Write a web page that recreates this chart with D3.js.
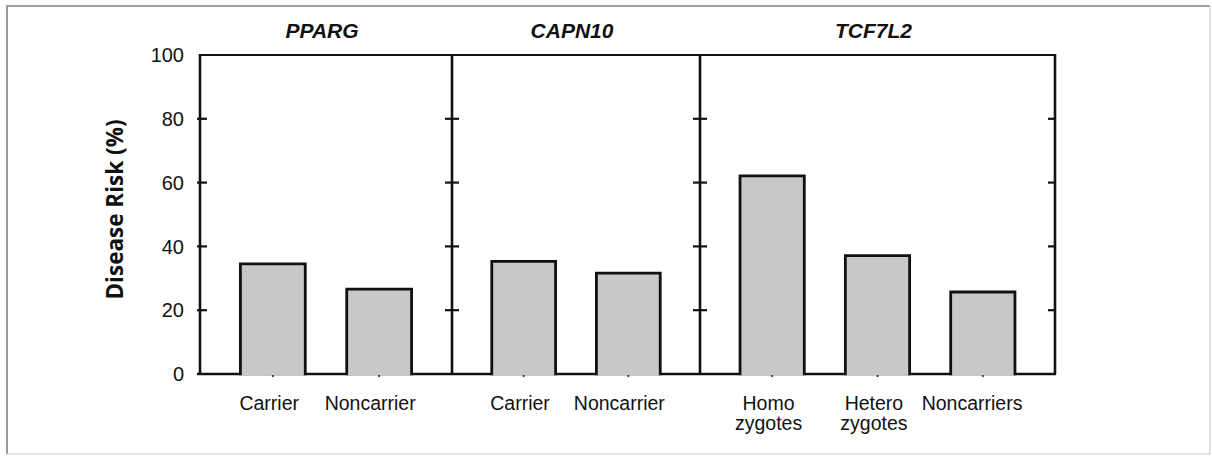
<!DOCTYPE HTML>
<html lang="en">
<head>
<meta charset="utf-8" />
<title>Disease Risk by Genotype</title>
<style>
  body { margin: 0; background: #fff; }
  text { font-family: "Liberation Sans", Arial, sans-serif; fill: #111; }
</style>
</head>
<body>
<div id="chart"></div>
<script src="https://d3js.org/d3.v7.min.js"></script>
<script>
  // data
  const genes = ['PPARG', 'CAPN10', 'TCF7L2'];
  const categories = [
    ['Carrier', 'Noncarrier'],
    ['Carrier', 'Noncarrier'],
    ['Homo zygotes', 'Hetero zygotes', 'Noncarriers']
  ];
  const risk = [
    [34.5, 26.6],
    [35.3, 31.6],
    [62.1, 37.1, 25.7]
  ];
  const yTicks = [0, 20, 40, 60, 80, 100];

  // layout
  const width = 1212;
  const height = 456;
  const plotTop = 55, plotBottom = 374;
  const panelEdges = [200, 452, 700, 1055];

  const svg = d3.select('#chart')
    .append('svg')
    .attr('width', width)
    .attr('height', height);

  // outer frame: top/left darker than right/bottom, like the scan
  svg.append('path')
    .attr('d', 'M7,454V6H1210')
    .attr('fill', 'none').attr('stroke', '#808080').attr('stroke-width', 1.6);
  svg.append('path')
    .attr('d', 'M1210,6V454H7')
    .attr('fill', 'none').attr('stroke', '#d0d0d0').attr('stroke-width', 1.2);

  const y = d3.scaleLinear().domain([0, 100]).range([plotBottom, plotTop]);

  // y tick labels
  svg.selectAll('.ylab')
    .data(yTicks)
    .enter()
    .append('text')
    .attr('class', 'ylab')
    .attr('x', 184)
    .attr('y', d => y(d))
    .attr('dy', '0.36em')
    .attr('text-anchor', 'end')
    .style('font-size', '20px')
    .text(d => d);

  // y title
  svg.append('text')
    .attr('transform', `translate(123, ${(plotTop + plotBottom) / 2 - 5}) rotate(-90)`)
    .attr('text-anchor', 'middle')
    .style('font-family', '"Open Sans", sans-serif')
    .style('font-weight', 'bold')
    .style('font-size', '22.5px')
    .text('Disease Risk (%)');

  // top line and baseline
  svg.append('line')
    .attr('x1', panelEdges[0]).attr('x2', panelEdges[3])
    .attr('y1', y(100)).attr('y2', y(100))
    .attr('stroke', '#111').attr('stroke-width', 2);
  svg.append('line')
    .attr('x1', panelEdges[0] - 3).attr('x2', panelEdges[3] + 1)
    .attr('y1', y(0)).attr('y2', y(0))
    .attr('stroke', '#111').attr('stroke-width', 2.5);

  genes.forEach((gene, p) => {
    const x0 = panelEdges[p], x1 = panelEdges[p + 1];
    const x = d3.scaleBand()
      .domain(categories[p])
      .range([x0, x1])
      .paddingInner(0.39)
      .paddingOuter(0.38);

    const rows = categories[p].map((c, i) => ({ cat: c, value: risk[p][i] }));

    // bars: filled, outlined on sides and top only
    svg.selectAll(`.bar${p}`)
      .data(rows)
      .enter()
      .append('path')
      .attr('class', `bar${p}`)
      .attr('d', d => {
        const bx = x(d.cat), bw = x.bandwidth();
        return `M${bx},${y(0) + 1.2}V${y(d.value)}H${bx + bw}V${y(0) + 1.2}`;
      })
      .attr('fill', '#c8c8c8')
      .attr('stroke', '#111')
      .attr('stroke-width', 2.8);

    // small tick dots under bars
    svg.selectAll(`.dot${p}`)
      .data(rows)
      .enter()
      .append('circle')
      .attr('class', `dot${p}`)
      .attr('cx', d => x(d.cat) + x.bandwidth() / 2)
      .attr('cy', y(0) + 2)
      .attr('r', 1.1)
      .attr('fill', '#222');

    // category labels (may wrap onto two lines); longer labels sit a bit left
    const labels = svg.selectAll(`.cat${p}`)
      .data(rows)
      .enter()
      .append('text')
      .attr('class', `cat${p}`)
      .attr('text-anchor', 'middle')
      .style('font-size', '19.5px');
    labels.each(function (d) {
      const words = d.cat.split(' ');
      const longest = d3.max(words, w => w.length);
      const cx = x(d.cat) + x.bandwidth() / 2 - Math.max(2, (longest - 5) * 1.8);
      words.forEach((w, k) => {
        d3.select(this).append('tspan')
          .attr('x', cx)
          .attr('y', 410 + k * 20)
          .text(w);
      });
    });

    // panel title
    svg.append('text')
      .attr('x', (x0 + x1) / 2 - 4)
      .attr('y', 38)
      .attr('text-anchor', 'middle')
      .style('font-weight', 'bold')
      .style('font-style', 'italic')
      .style('font-size', '21px')
      .text(gene);
  });

  // vertical axes at each panel edge, with ticks
  panelEdges.forEach((ex, i) => {
    svg.append('line')
      .attr('x1', ex).attr('x2', ex)
      .attr('y1', y(100) - 1).attr('y2', y(0))
      .attr('stroke', '#111').attr('stroke-width', 2.6);
    const left = i === 0 ? -3 : -7;
    const right = i === panelEdges.length - 1 ? 1 : 7;
    svg.selectAll(`.tk${i}`)
      .data(yTicks.filter(t => t > 0 && t < 100))
      .enter()
      .append('line')
      .attr('class', `tk${i}`)
      .attr('x1', ex + left).attr('x2', ex + right)
      .attr('y1', d => y(d)).attr('y2', d => y(d))
      .attr('stroke', '#111').attr('stroke-width', 2.2);
  });
</script>
</body>
</html>
